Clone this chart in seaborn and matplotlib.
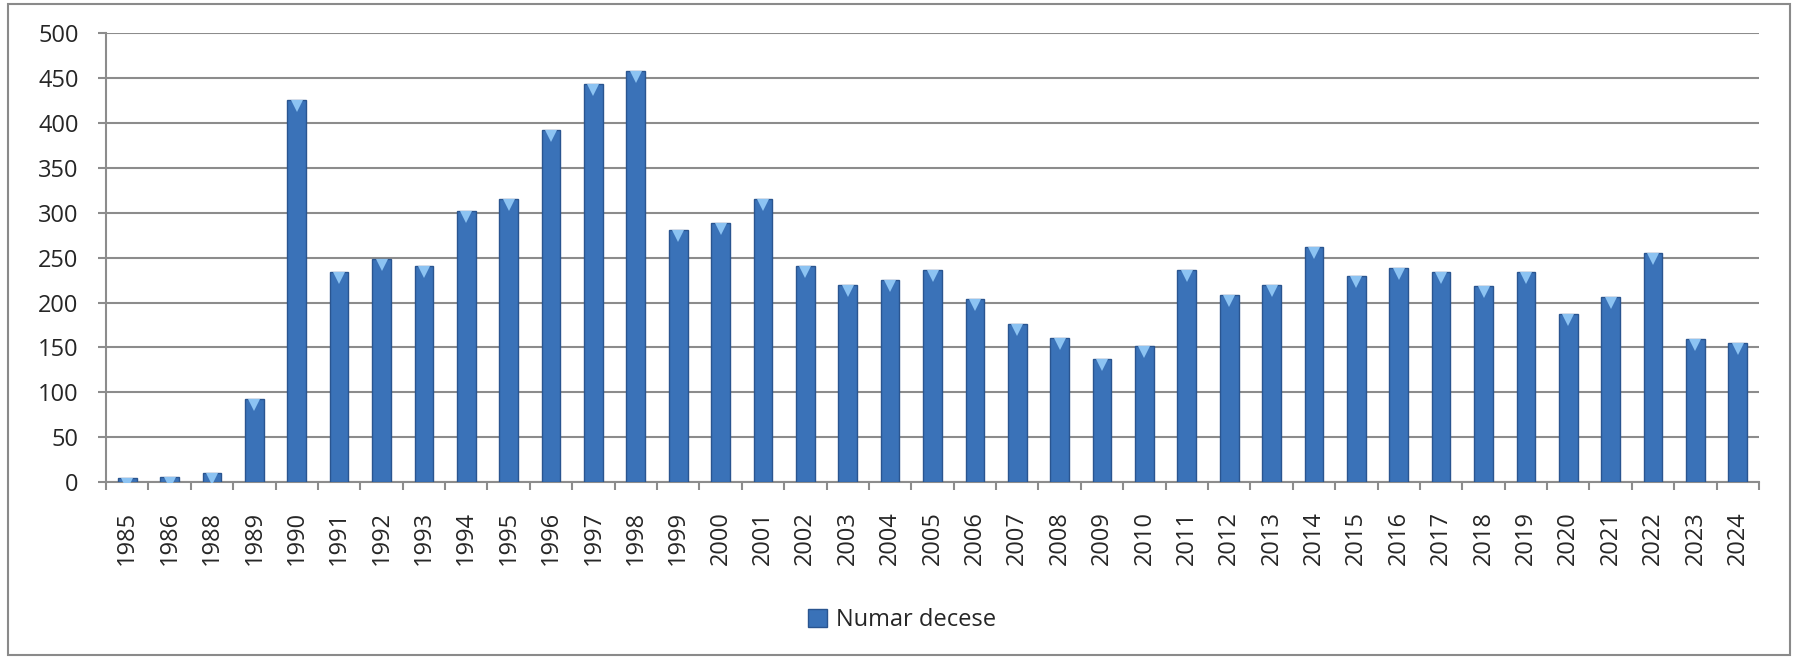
import numpy as np
import pandas as pd
import matplotlib
matplotlib.use("Agg")
from matplotlib import pyplot as plt
from matplotlib import transforms
from matplotlib.patches import Rectangle, Patch
import seaborn as sns

# data
years = ['1985', '1986', '1988', '1989', '1990', '1991', '1992', '1993', '1994', '1995',
         '1996', '1997', '1998', '1999', '2000', '2001', '2002', '2003', '2004', '2005',
         '2006', '2007', '2008', '2009', '2010', '2011', '2012', '2013', '2014', '2015',
         '2016', '2017', '2018', '2019', '2020', '2021', '2022', '2023', '2024']
deaths = [4, 6, 10, 92, 426, 234, 248, 241, 302, 315,
          392, 443, 458, 281, 289, 315, 241, 220, 225, 236,
          204, 176, 161, 137, 152, 236, 208, 220, 262, 229,
          238, 234, 218, 234, 187, 206, 255, 159, 155]
series_name = 'Numar decese'
yticks = list(range(0, 501, 50))

df = pd.DataFrame({'year': years, 'deaths': deaths})

sns.set_style('white')
plt.rcParams['font.family'] = ['Open Sans', 'DejaVu Sans']

bar_color = '#3a72b8'
grid_color = '#8c8c8c'

fig = plt.figure(figsize=(17.94, 6.59), dpi=100)
ax = fig.add_axes([106 / 1794, 1 - 482 / 659, (1759 - 106) / 1794, (482 - 33.3) / 659])

sns.barplot(data=df, x='year', y='deaths', color=bar_color, width=0.44,
            edgecolor='#2a5590', linewidth=1, saturation=1, ax=ax, zorder=3)

# light triangle caps on top of each bar
cap_offset = transforms.ScaledTranslation(0, -6 / 100, fig.dpi_scale_trans)
ax.plot(np.arange(len(years)), deaths, linestyle='none', marker='v', markersize=8,
        color='#8cc3f2', markeredgewidth=0, transform=ax.transData + cap_offset, zorder=4)

ax.set_ylim(0, 500)
ax.set_xlim(-0.5, len(years) - 0.5)
ax.set_yticks(yticks)
ax.yaxis.grid(True, color=grid_color, linewidth=1.5)
ax.set_axisbelow(True)
ax.set_xlabel('')
ax.set_ylabel('')

for side in ['top', 'right']:
    ax.spines[side].set_visible(False)
for side in ['left', 'bottom']:
    ax.spines[side].set_color(grid_color)
    ax.spines[side].set_linewidth(1.5)

ax.tick_params(axis='y', direction='out', length=5.8, width=1.5, color=grid_color,
               pad=14, labelsize=17, left=True)
ax.tick_params(axis='x', which='major', length=0, pad=21, labelsize=17, labelrotation=90)
ax.set_xticks(np.arange(-0.5, len(years), 1), minor=True)
ax.tick_params(axis='x', which='minor', direction='out', length=5.8, width=1.5,
               color=grid_color, bottom=True)

handle = Patch(facecolor=bar_color, edgecolor='#2a5590')
fig.legend([handle], [series_name], loc='center', bbox_to_anchor=(0.503, 0.059),
           frameon=False, fontsize=17, handlelength=0.8, handleheight=0.8,
           handletextpad=0.4)

# outer chart frame
fig.patches.append(Rectangle((8 / 1794, 4 / 659), (1790 - 8) / 1794, (655 - 4) / 659,
                             transform=fig.transFigure, fill=False,
                             edgecolor='#8a8a8a', linewidth=1.5))

fig.savefig('out.png', dpi=100)
